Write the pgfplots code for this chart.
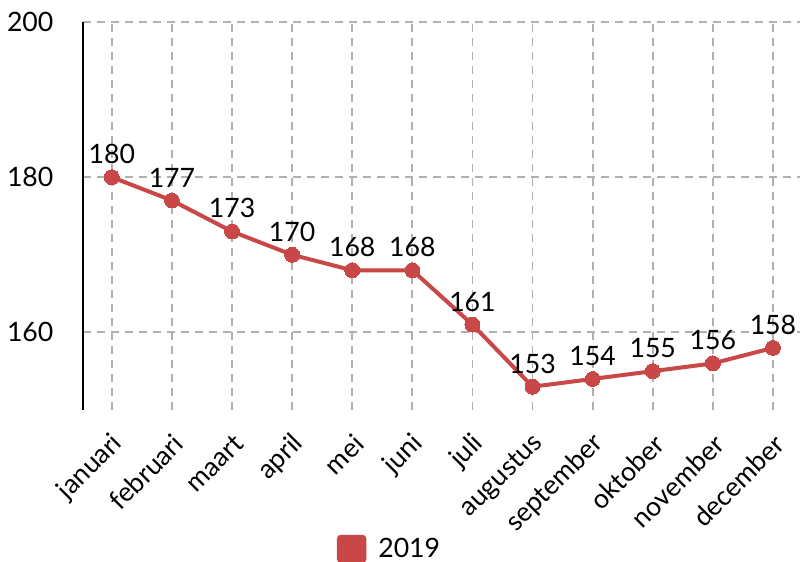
\documentclass[border=0pt]{standalone}
\usepackage{fontspec}
\setmainfont{Lato}
\usepackage{pgfplots}
\pgfplotsset{compat=1.18}
\definecolor{sred}{RGB}{201,71,71}
\definecolor{gridgray}{RGB}{176,176,176}
\begin{document}
\begin{tikzpicture}
\begin{axis}[
  scale only axis,
  width=537.75pt, height=291pt,
  xmin=-0.48, xmax=11.45,
  ymin=150, ymax=200,
  ytick={160,180,200},
  xtick={0,...,11},
  xticklabels={januari,februari,maart,april,mei,juni,juli,augustus,september,oktober,november,december},
  /pgf/number format/assume math mode=true,
  font=\fontsize{20}{24}\selectfont,
  axis lines*=left,
  x axis line style={draw=none},
  y axis line style={black, line width=1.5pt, -},
  major tick length=0pt,
  grid=major,
  major grid style={gridgray, line width=1.4pt, dash pattern=on 6pt off 4.5pt},
  yticklabel style={anchor=east, inner sep=0pt, xshift=-22pt},
  xticklabel style={xshift=5pt, yshift=-22pt, rotate=45, anchor=east, inner sep=0pt},
  nodes near coords,
  nodes near coords style={anchor=south, inner sep=0pt, yshift=10pt, text=black},
  legend style={draw=none, at={(rel axis cs:0.428,-0.358)}, anchor=center, inner sep=0pt,
    /tikz/every odd column/.append style={column sep=7pt}},
  legend image code/.code={\fill[sred, rounded corners=1.5pt] (0pt,-9pt) rectangle (19pt,9pt);},
  clip=false,
]
\addplot[sred, line width=3pt, mark=*, mark size=5.6pt, mark options={fill=sred, draw=sred, line width=0pt}]
 coordinates {(0,180) (1,177) (2,173) (3,170) (4,168) (5,168) (6,161) (7,153) (8,154) (9,155) (10,156) (11,158)};
\addlegendentry{2019}
\coordinate (bl) at (rel axis cs:-0.1158,-0.3918);
\coordinate (tr) at (rel axis cs:1.0014,1.0567);
\end{axis}
\pgfresetboundingbox
\path[use as bounding box] (bl) rectangle (tr);
\end{tikzpicture}
\end{document}
